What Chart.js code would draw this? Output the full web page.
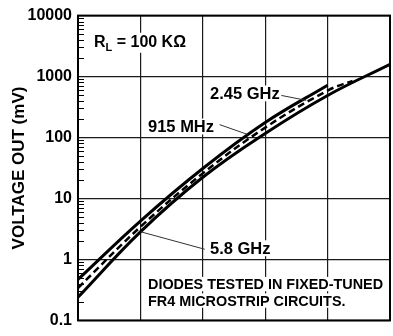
<!DOCTYPE html>
<html><head><meta charset="utf-8">
<script src="https://cdn.jsdelivr.net/npm/chart.js@4.4.0/dist/chart.umd.min.js"></script>
<style>html,body{margin:0;padding:0;background:#fff;}</style>
</head><body>
<canvas id="c" width="393" height="336"></canvas>
<script>
// ---- data ----
const xGrid = [0, 1, 2, 3, 4, 5];
const yTickValues = [0.1, 1, 10, 100, 1000, 10000];
const yTickLabels = ["0.1", "1", "10", "100", "1000", "10000"];
const seriesNames = ["915 MHz", "2.45 GHz", "5.8 GHz"];
const input915 = [0, 1, 2, 3, 4];
const mv915    = [0.47, 4.26, 31.0, 176, 720];
const input245 = [0, 1, 2, 3, 4, 4.4];
const mv245    = [0.34, 3.42, 25.8, 145.5, 589, 850];
const input58  = [0, 1, 2, 3, 4, 5];
const mv58     = [0.24, 2.84, 22.3, 116.7, 490, 1590];
const yTitle = "VOLTAGE OUT (mV)";
const noteLines = ["DIODES TESTED IN FIXED-TUNED", "FR4 MICROSTRIP CIRCUITS."];

const FONT = "'Liberation Sans', Arial, Helvetica, sans-serif";
const pts = (xs, ys) => xs.map((x, i) => ({x: x, y: ys[i]}));

// annotation anchors in data units
const labels = [
  {text: seriesNames[0], u: 1.122, v: 121, size: 16.5},
  {text: seriesNames[1], u: 2.115, v: 423, size: 16.5},
  {text: seriesNames[2], u: 2.115, v: 1.22, size: 16.5},
  {text: noteLines[0], u: 1.122, v: 0.324, size: 14.4},
  {text: noteLines[1], u: 1.122, v: 0.174, size: 14.4}
];
const leaders = [
  [[1.006, 2.84], [2.03, 1.47]],
  [[2.27, 162.6], [2.716, 112.5]],
  [[3.259, 490], [3.658, 407]]
];
const rlNote = {u: 0.256, v: 3083};

const bgPlugin = {
  id: 'bg',
  beforeDraw(chart) {
    const c = chart.ctx; c.save(); c.fillStyle = '#fff';
    c.fillRect(0, 0, chart.width, chart.height); c.restore();
  }
};

const framePlugin = {
  id: 'frame',
  beforeDatasetsDraw(chart) {
    const c = chart.ctx, a = chart.chartArea, y = chart.scales.y;
    c.save();
    c.strokeStyle = '#000'; c.lineWidth = 1;
    // minor ticks on the inside of the left axis
    for (let i = 0; i < yTickValues.length - 1; i++) {
      for (let m = 2; m <= 9; m++) {
        const py = Math.round(y.getPixelForValue(yTickValues[i] * m)) + 0.5;
        c.beginPath(); c.moveTo(a.left, py); c.lineTo(a.left + 6, py); c.stroke();
      }
    }
    c.lineWidth = 2;
    c.strokeRect(a.left, a.top, a.right - a.left, a.bottom - a.top);
    c.restore();
  },
  afterDatasetsDraw(chart) {
    const c = chart.ctx, xs = chart.scales.x, ys = chart.scales.y;
    c.save();
    c.textBaseline = 'alphabetic';
    c.textAlign = 'left';
    labels.forEach(l => {
      c.font = 'bold ' + l.size + 'px ' + FONT;
      const px = xs.getPixelForValue(l.u), py = ys.getPixelForValue(l.v);
      const w = c.measureText(l.text).width;
      const cap = l.size * 0.72;
      c.fillStyle = '#fff';
      c.fillRect(px - 2, py - cap - 2, w + 4, cap + 4);
      c.fillStyle = '#000';
      c.fillText(l.text, px, py);
    });
    // R_L note
    {
      const px = xs.getPixelForValue(rlNote.u), py = ys.getPixelForValue(rlNote.v);
      c.font = 'bold 16px ' + FONT;
      const wR = c.measureText('R').width;
      c.font = 'bold 11px ' + FONT;
      const wL = c.measureText('L').width;
      c.font = 'bold 16px ' + FONT;
      const rest = ' = 100 K\u03A9';
      const wRest = c.measureText(rest).width;
      c.fillStyle = '#fff';
      c.fillRect(px - 2, py - 14, wR + wL + wRest + 4, 20);
      c.fillStyle = '#000';
      c.fillText('R', px, py);
      c.font = 'bold 11px ' + FONT;
      c.fillText('L', px + wR, py + 4);
      c.font = 'bold 16px ' + FONT;
      c.fillText(rest, px + wR + wL, py);
    }
    c.strokeStyle = '#333'; c.lineWidth = 1;
    leaders.forEach(ld => {
      c.beginPath();
      c.moveTo(xs.getPixelForValue(ld[0][0]), ys.getPixelForValue(ld[0][1]));
      c.lineTo(xs.getPixelForValue(ld[1][0]), ys.getPixelForValue(ld[1][1]));
      c.stroke();
    });
    c.restore();
  }
};

new Chart(document.getElementById('c').getContext('2d'), {
  type: 'scatter',
  data: {
    datasets: [
      {label: seriesNames[0], data: pts(input915, mv915), showLine: true, borderColor: '#000', borderWidth: 3,
       pointRadius: 0, tension: 0.4, fill: false},
      {label: seriesNames[1], data: pts(input245, mv245), showLine: true, borderColor: '#000', borderWidth: 2.5,
       borderDash: [7, 4], pointRadius: 0, tension: 0.4, fill: false},
      {label: seriesNames[2], data: pts(input58, mv58), showLine: true, borderColor: '#000', borderWidth: 3,
       pointRadius: 0, tension: 0.4, fill: false}
    ]
  },
  options: {
    responsive: false,
    animation: false,
    devicePixelRatio: 1,
    layout: {padding: {top: 11, right: 3, bottom: 12, left: 0}},
    plugins: {legend: {display: false}, tooltip: {enabled: false}},
    scales: {
      x: {
        type: 'linear', min: 0, max: 5,
        afterBuildTicks: s => { s.ticks = xGrid.map(v => ({value: v})); },
        ticks: {display: false},
        grid: {color: '#1a1a1a', lineWidth: 1.2, drawTicks: false},
        border: {display: false},
        afterFit: s => { s.height = 0; }
      },
      y: {
        type: 'logarithmic', min: 0.1, max: 10000,
        afterBuildTicks: s => { s.ticks = yTickValues.map(v => ({value: v})); },
        ticks: {
          callback: (v, i) => yTickLabels[i],
          font: {family: FONT, size: 16, weight: 'bold'},
          color: '#000', padding: 6, autoSkip: false
        },
        grid: {color: '#1a1a1a', lineWidth: 1.2, drawTicks: false},
        border: {display: false},
        title: {
          display: true, text: yTitle, color: '#000',
          font: {family: FONT, size: 17, weight: 'bold'},
          padding: {top: 9, bottom: 0}
        },
        afterFit: s => { s.width = 78; }
      }
    }
  },
  plugins: [bgPlugin, framePlugin]
});
</script>
</body></html>
